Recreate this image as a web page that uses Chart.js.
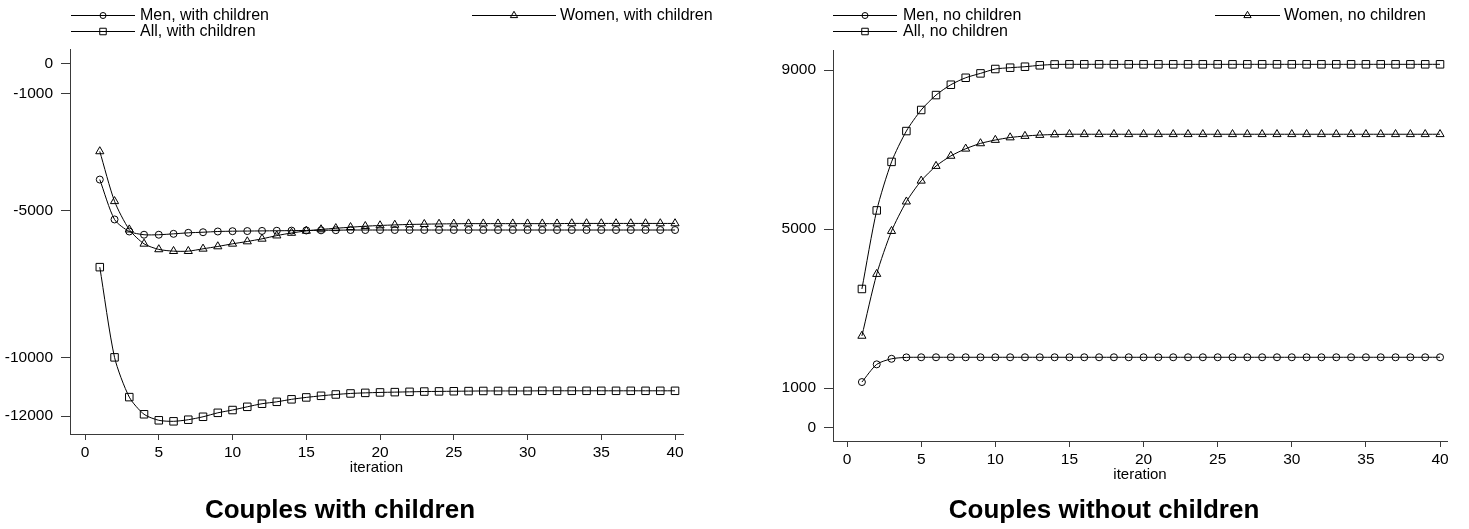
<!DOCTYPE html>
<html>
<head>
<meta charset="utf-8">
<script src="https://cdn.jsdelivr.net/npm/chart.js@4/dist/chart.umd.min.js"></script>
<style>
  html, body { margin: 0; padding: 0; background: #fff; }
  #wrap { position: relative; width: 1469px; height: 529px; background: #fff; }
  canvas { position: absolute; left: 0; top: 0; }
</style>
</head>
<body>
<div id="wrap">
  <canvas id="left" width="1469" height="529"></canvas>
  <canvas id="right" width="1469" height="529"></canvas>
</div>
<script>
// ---------- DATA ----------
const iterations = [1,2,3,4,5,6,7,8,9,10,11,12,13,14,15,16,17,18,19,20,21,22,23,24,25,26,27,28,29,30,31,32,33,34,35,36,37,38,39,40];

const seriesLeft = ['Men, with children', 'Women, with children', 'All, with children'];
const seriesRight = ['Men, no children', 'Women, no children', 'All, no children'];

const menWithChildren = [-3940,-5300,-5710,-5820,-5820,-5790,-5755,-5735,-5710,-5700,
  -5695,-5690,-5685,-5680,-5675,-5670,-5665,-5660,-5660,-5660,
  -5660,-5660,-5660,-5660,-5660,-5660,-5660,-5660,-5660,-5660,
  -5660,-5660,-5660,-5660,-5660,-5660,-5660,-5660,-5660,-5660];
const womenWithChildren = [-2980,-4680,-5645,-6130,-6320,-6380,-6380,-6300,-6220,-6130,
  -6050,-5960,-5850,-5760,-5690,-5640,-5600,-5565,-5530,-5505,
  -5485,-5470,-5460,-5452,-5447,-5442,-5442,-5442,-5442,-5442,
  -5442,-5442,-5435,-5435,-5435,-5435,-5435,-5435,-5435,-5435];
const allWithChildren = [-6925,-10000,-11355,-11940,-12145,-12180,-12125,-12025,-11890,-11795,
  -11685,-11580,-11515,-11430,-11365,-11310,-11265,-11230,-11210,-11195,
  -11185,-11175,-11165,-11160,-11155,-11150,-11145,-11145,-11145,-11145,
  -11140,-11140,-11140,-11140,-11140,-11140,-11140,-11140,-11140,-11140];

const menNoChildren = [1155,1600,1740,1775,1778,1778,1778,1778,1778,1778,
  1778,1778,1778,1778,1778,1778,1778,1778,1778,1778,
  1778,1778,1778,1778,1778,1778,1778,1778,1778,1778,
  1778,1778,1778,1778,1778,1778,1778,1778,1778,1778];
const womenNoChildren = [2315,3870,4950,5690,6215,6585,6840,7020,7155,7240,
  7303,7340,7365,7378,7385,7385,7385,7385,7385,7385,
  7385,7385,7385,7385,7385,7385,7385,7385,7385,7385,
  7385,7385,7385,7385,7385,7385,7385,7385,7385,7385];
const allNoChildren = [3495,5470,6690,7465,7995,8370,8630,8805,8915,9025,
  9058,9083,9118,9140,9143,9143,9143,9143,9143,9143,
  9143,9143,9143,9143,9143,9143,9143,9143,9143,9143,
  9143,9143,9143,9143,9143,9143,9143,9143,9143,9143];

const xTicks = [0,5,10,15,20,25,30,35,40];
const yTicksLeft = [0,-1000,-5000,-10000,-12000];
const yTicksRight = [0,1000,5000,9000];

const xAxisTitle = 'iteration';
const titleLeft = 'Couples with children';
const titleRight = 'Couples without children';

// ---------- STYLE / HELPERS ----------
const FAMILY = '"Liberation Sans", Arial, Helvetica, sans-serif';
const styles = [
  { pointStyle: 'circle', pointRadius: 3.5 },
  { pointStyle: 'triangle', pointRadius: 4.7 },
  { pointStyle: 'rect', pointRadius: 5.3 }
];

function pts(vals) { return iterations.map((x, i) => ({ x: x, y: vals[i] })); }

function makeDatasets(labels, arrays) {
  return arrays.map((arr, i) => ({
    label: labels[i],
    data: pts(arr),
    borderColor: '#000',
    borderWidth: 1,
    backgroundColor: 'rgba(0,0,0,0)',
    pointBackgroundColor: 'rgba(0,0,0,0)',
    pointBorderColor: '#000',
    pointBorderWidth: 1,
    pointStyle: styles[i].pointStyle,
    pointRadius: styles[i].pointRadius,
    tension: 0.25,
    fill: false
  }));
}

function drawMarker(ctx, style, x, y, r) {
  ctx.beginPath();
  if (style === 'circle') {
    ctx.arc(x, y, r, 0, Math.PI * 2);
  } else if (style === 'rect') {
    const s = Math.SQRT1_2 * r;
    ctx.rect(x - s, y - s, 2 * s, 2 * s);
  } else if (style === 'triangle') {
    ctx.moveTo(x, y - r);
    ctx.lineTo(x + r * Math.sqrt(3) / 2, y + r / 2);
    ctx.lineTo(x - r * Math.sqrt(3) / 2, y + r / 2);
    ctx.closePath();
  }
  ctx.stroke();
}

const annotPlugin = {
  id: 'annot',
  afterDraw(chart, args, opts) {
    const ctx = chart.ctx;
    ctx.save();
    ctx.strokeStyle = '#000';
    ctx.fillStyle = '#000';
    ctx.lineWidth = 1;
    // legend
    ctx.font = '16px ' + FAMILY;
    ctx.textBaseline = 'middle';
    ctx.textAlign = 'left';
    opts.legend.forEach(item => {
      const ds = chart.data.datasets[item.ds];
      ctx.beginPath();
      ctx.moveTo(item.x1, item.y + 0.5);
      ctx.lineTo(item.x2, item.y + 0.5);
      ctx.stroke();
      drawMarker(ctx, ds.pointStyle, (item.x1 + item.x2) / 2, item.y + 0.5, item.r);
      ctx.fillText(ds.label, item.tx, item.y + 1);
    });
    // axis title
    const ca = chart.chartArea;
    ctx.font = '15px ' + FAMILY;
    ctx.textAlign = 'center';
    ctx.fillText(xAxisTitle, (ca.left + ca.right) / 2, ca.bottom + opts.axisTitleOffset);
    // bottom title
    ctx.font = 'bold 26px ' + FAMILY;
    ctx.fillText(opts.title, opts.titleX, opts.titleY);
    ctx.restore();
  }
};

function scaleOpts(cfg) {
  const tickFont = { family: FAMILY, size: 15.5 };
  return {
    x: {
      type: 'linear',
      min: cfg.xmin, max: cfg.xmax,
      afterBuildTicks: s => { s.ticks = xTicks.map(v => ({ value: v })); },
      afterFit: s => { s.height = 30; },
      grid: { display: true, drawOnChartArea: false, drawTicks: true, tickLength: 6, color: '#3a3a3a', lineWidth: 1 },
      border: { display: true, color: '#3a3a3a', width: 1 },
      ticks: { font: tickFont, color: '#000', padding: 3, maxRotation: 0, autoSkip: false, callback: v => String(v) }
    },
    y: {
      type: 'linear',
      min: cfg.ymin, max: cfg.ymax,
      afterBuildTicks: s => { s.ticks = cfg.yTicks.map(v => ({ value: v })); },
      afterFit: s => { s.width = 70; },
      grid: { display: true, drawOnChartArea: false, drawTicks: true, tickLength: 9, color: '#3a3a3a', lineWidth: 1 },
      border: { display: true, color: '#3a3a3a', width: 1 },
      ticks: { font: tickFont, color: '#000', padding: 8, autoSkip: false, callback: v => String(v) }
    }
  };
}

// ---------- LEFT CHART ----------
new Chart(document.getElementById('left'), {
  type: 'line',
  data: { datasets: makeDatasets(seriesLeft, [menWithChildren, womenWithChildren, allWithChildren]) },
  options: {
    responsive: false, animation: false, devicePixelRatio: 1,
    layout: { padding: { left: 0, top: 49, right: 1469 - 683, bottom: 529 - 434 - 30 } },
    scales: scaleOpts({ xmin: -1.02, xmax: 40.54, ymin: -12612, ymax: 510, yTicks: yTicksLeft }),
    plugins: {
      legend: { display: false },
      tooltip: { enabled: false },
      annot: {
        legend: [
          { ds: 0, x1: 71, x2: 135, y: 15, tx: 140, r: 3 },
          { ds: 1, x1: 472, x2: 556, y: 15, tx: 560, r: 4.2 },
          { ds: 2, x1: 71, x2: 135, y: 31, tx: 140, r: 4.6 }
        ],
        axisTitleOffset: 34,
        title: titleLeft, titleX: 340, titleY: 511
      }
    }
  },
  plugins: [annotPlugin]
});

// ---------- RIGHT CHART ----------
new Chart(document.getElementById('right'), {
  type: 'line',
  data: { datasets: makeDatasets(seriesRight, [menNoChildren, womenNoChildren, allNoChildren]) },
  options: {
    responsive: false, animation: false, devicePixelRatio: 1,
    layout: { padding: { left: 833 - 70, top: 50, right: 1469 - 1447, bottom: 529 - 441 - 30 } },
    scales: scaleOpts({ xmin: -0.95, xmax: 40.47, ymin: -327, ymax: 9503, yTicks: yTicksRight }),
    plugins: {
      legend: { display: false },
      tooltip: { enabled: false },
      annot: {
        legend: [
          { ds: 0, x1: 833, x2: 897, y: 15, tx: 903, r: 3 },
          { ds: 1, x1: 1215, x2: 1280, y: 15, tx: 1284, r: 4.2 },
          { ds: 2, x1: 833, x2: 897, y: 31, tx: 903, r: 4.6 }
        ],
        axisTitleOffset: 34,
        title: titleRight, titleX: 1104, titleY: 511
      }
    }
  },
  plugins: [annotPlugin]
});
</script>
</body>
</html>
